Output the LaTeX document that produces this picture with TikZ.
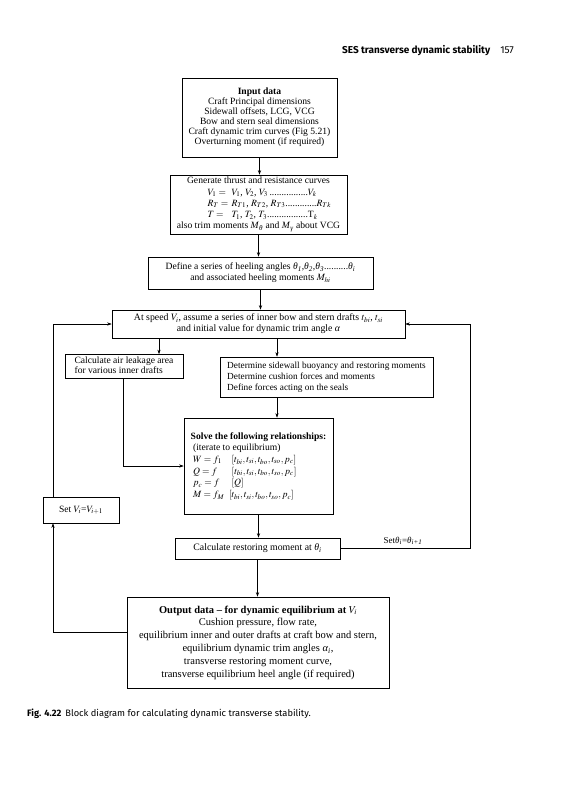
\documentclass[tikz,border=0pt]{standalone}
\usepackage{mathptmx}
\usepackage{fontspec}
\setmainfont{Liberation Serif}
\newfontfamily\capfont{Fira Sans}
\usetikzlibrary{arrows.meta}
\newcommand{\thet}[1]{\textit{θ}\textsubscript{\textit{#1}}}
\newcommand{\alp}{\textit{α}}
\begin{document}
\begin{tikzpicture}[x=1pt,y=-1pt,
  box/.style={draw, line width=0.6pt, inner sep=2pt, align=center, font=\fontsize{9.6}{10}\selectfont},
  arr/.style={-{Stealth[length=4.5pt,width=3.2pt]}, line width=0.6pt},
  lbl/.style={font=\fontsize{9}{10}\selectfont, inner sep=1pt}]
\useasboundingbox (0,0) rectangle (565,800);

\coordinate (c159) at (159,0);
\coordinate (c277) at (277,0);
\coordinate (c123) at (123,0);
\coordinate (lx) at (53,0);
\coordinate (oy) at (0,632);

\node[font=\capfont\fontsize{10}{12}\selectfont, anchor=base east, inner sep=0pt] (hdr) at (514,53) {\textbf{SES transverse dynamic stability}\hspace{10pt}157};

\node[box, minimum width=155pt, minimum height=79pt] (inp) at (259.5,117.5)
 {\textbf{Input data}\\Craft Principal dimensions\\Sidewall offsets, LCG, VCG\\Bow and stern seal dimensions\\Craft dynamic trim curves (Fig 5.21)\\Overturning moment (if required)};

\node[box, minimum width=177pt, minimum height=59pt, font=\fontsize{9.6}{11.2}\selectfont] (gen) at (258.5,204.5)
 {Generate thrust and resistance curves\\
  \makebox[150pt][l]{\hspace{24pt}\makebox[24pt][l]{$V_1=$}$V_1$, $V_2$, $V_3$\,................$V_k$}\\
  \makebox[150pt][l]{\hspace{24pt}\makebox[24pt][l]{$R_T=$}$R_{T1}$, $R_{T2}$, $R_{T3}$.............$R_{Tk}$}\\
  \makebox[150pt][l]{\hspace{24pt}\makebox[24pt][l]{$T=$}$T_1$, $T_2$, $T_3$.................T$_k$}\\
  also trim moments \textit{M}\textsubscript{\textit{θ}} and \textit{M}\textsubscript{\textit{γ}} about VCG};

\node[box, minimum width=225pt, minimum height=32pt, font=\fontsize{9.6}{11}\selectfont] (def) at (260.5,273)
 {Define a series of heeling angles \thet{1},\thet{2},\thet{3}..........\thet{i}\\and associated heeling moments $M_{hi}$};

\node[box, minimum width=293pt, minimum height=28pt, font=\fontsize{9.8}{11}\selectfont] (as) at (258.5,324)
 {At speed $V_i$, assume a series of inner bow and stern drafts $t_{bi}$, $t_{si}$\\and initial value for dynamic trim angle \alp};

\node[box, minimum width=118pt, minimum height=23pt] (air) at (124,366.5)
 {\begin{tabular}{@{}l@{}}Calculate air leakage area\\for various inner drafts\end{tabular}};

\node[box, minimum width=213pt, minimum height=40pt, font=\fontsize{9.3}{11}\selectfont] (det) at (326.5,377)
 {\begin{tabular}{@{}l@{}}Determine sidewall buoyancy and restoring moments\\Determine cushion forces and moments\\Define forces acting on the seals\end{tabular}};

\node[box, minimum width=149pt, minimum height=96pt, font=\fontsize{9.6}{11.7}\selectfont] (sol) at (258.5,466)
 {\begin{tabular}{@{}l@{}}\textbf{Solve the following relationships:}\\
  \ (iterate to equilibrium)\\
  \ $W=f_1$\quad $[t_{bi},t_{si},t_{bo},t_{so},p_c]$\\
  \ $Q=f$\quad\ \ $[t_{bi},t_{si},t_{bo},t_{so},p_c]$\\
  \ $p_c=f$\quad\ $[Q]$\\
  \ $M=f_M$\ \ $[t_{bi},t_{si},t_{bo},t_{so},p_c]$\end{tabular}};

\node[box, minimum width=76pt, minimum height=26pt] (setv) at (81,510)
 {Set $V_i$=$V_{i+1}$};

\node[box, minimum width=165pt, minimum height=21pt, font=\fontsize{9.8}{11}\selectfont] (calc) at (257.5,548.5)
 {Calculate restoring moment at \thet{i}};

\node[lbl] (setth) at (403,541) {Set\thet{i}=\thet{i+1}};

\node[box, minimum width=262pt, minimum height=91pt, font=\fontsize{10.5}{12.8}\selectfont] (out) at (258,642.5)
 {\textbf{Output data -- for dynamic equilibrium at $V_i$}\\Cushion pressure, flow rate,\\equilibrium inner and outer drafts at craft bow and stern,\\equilibrium dynamic trim angles \alp\textsubscript{\textit{i}},\\transverse restoring moment curve,\\transverse equilibrium heel angle (if required)};

\node[anchor=base west, inner sep=0pt, font=\capfont\fontsize{9.3}{11}\selectfont] (cap) at (27,716)
 {\textbf{Fig. 4.22}\hspace{4pt}Block diagram for calculating dynamic transverse stability.};

% connectors
\draw[arr] (inp.south) -- (inp.south |- gen.north);
\draw[arr] (gen.south) -- (gen.south |- def.north);
\draw[arr] (def.south) -- (def.south |- as.north);
\draw[arr] (as.south -| c159) -- (air.north -| c159);
\draw[arr] (as.south -| c277) -- (det.north -| c277);
\draw[arr] (det.south -| c277) -- (sol.north -| c277);
\draw[arr] (air.south -| c123) |- (sol.west);
\draw[arr] (sol.south) -- (sol.south |- calc.north);
\draw[arr] (calc.south) -- (calc.south |- out.north);
\coordinate (rl) at (470,324);
\draw[arr] (calc.east) -| (rl) -- (as.east);
\draw[arr] (out.west |- oy) -| (setv.south -| lx);
\draw[arr] (setv.north -| lx) |- (as.west);
\end{tikzpicture}
\end{document}
